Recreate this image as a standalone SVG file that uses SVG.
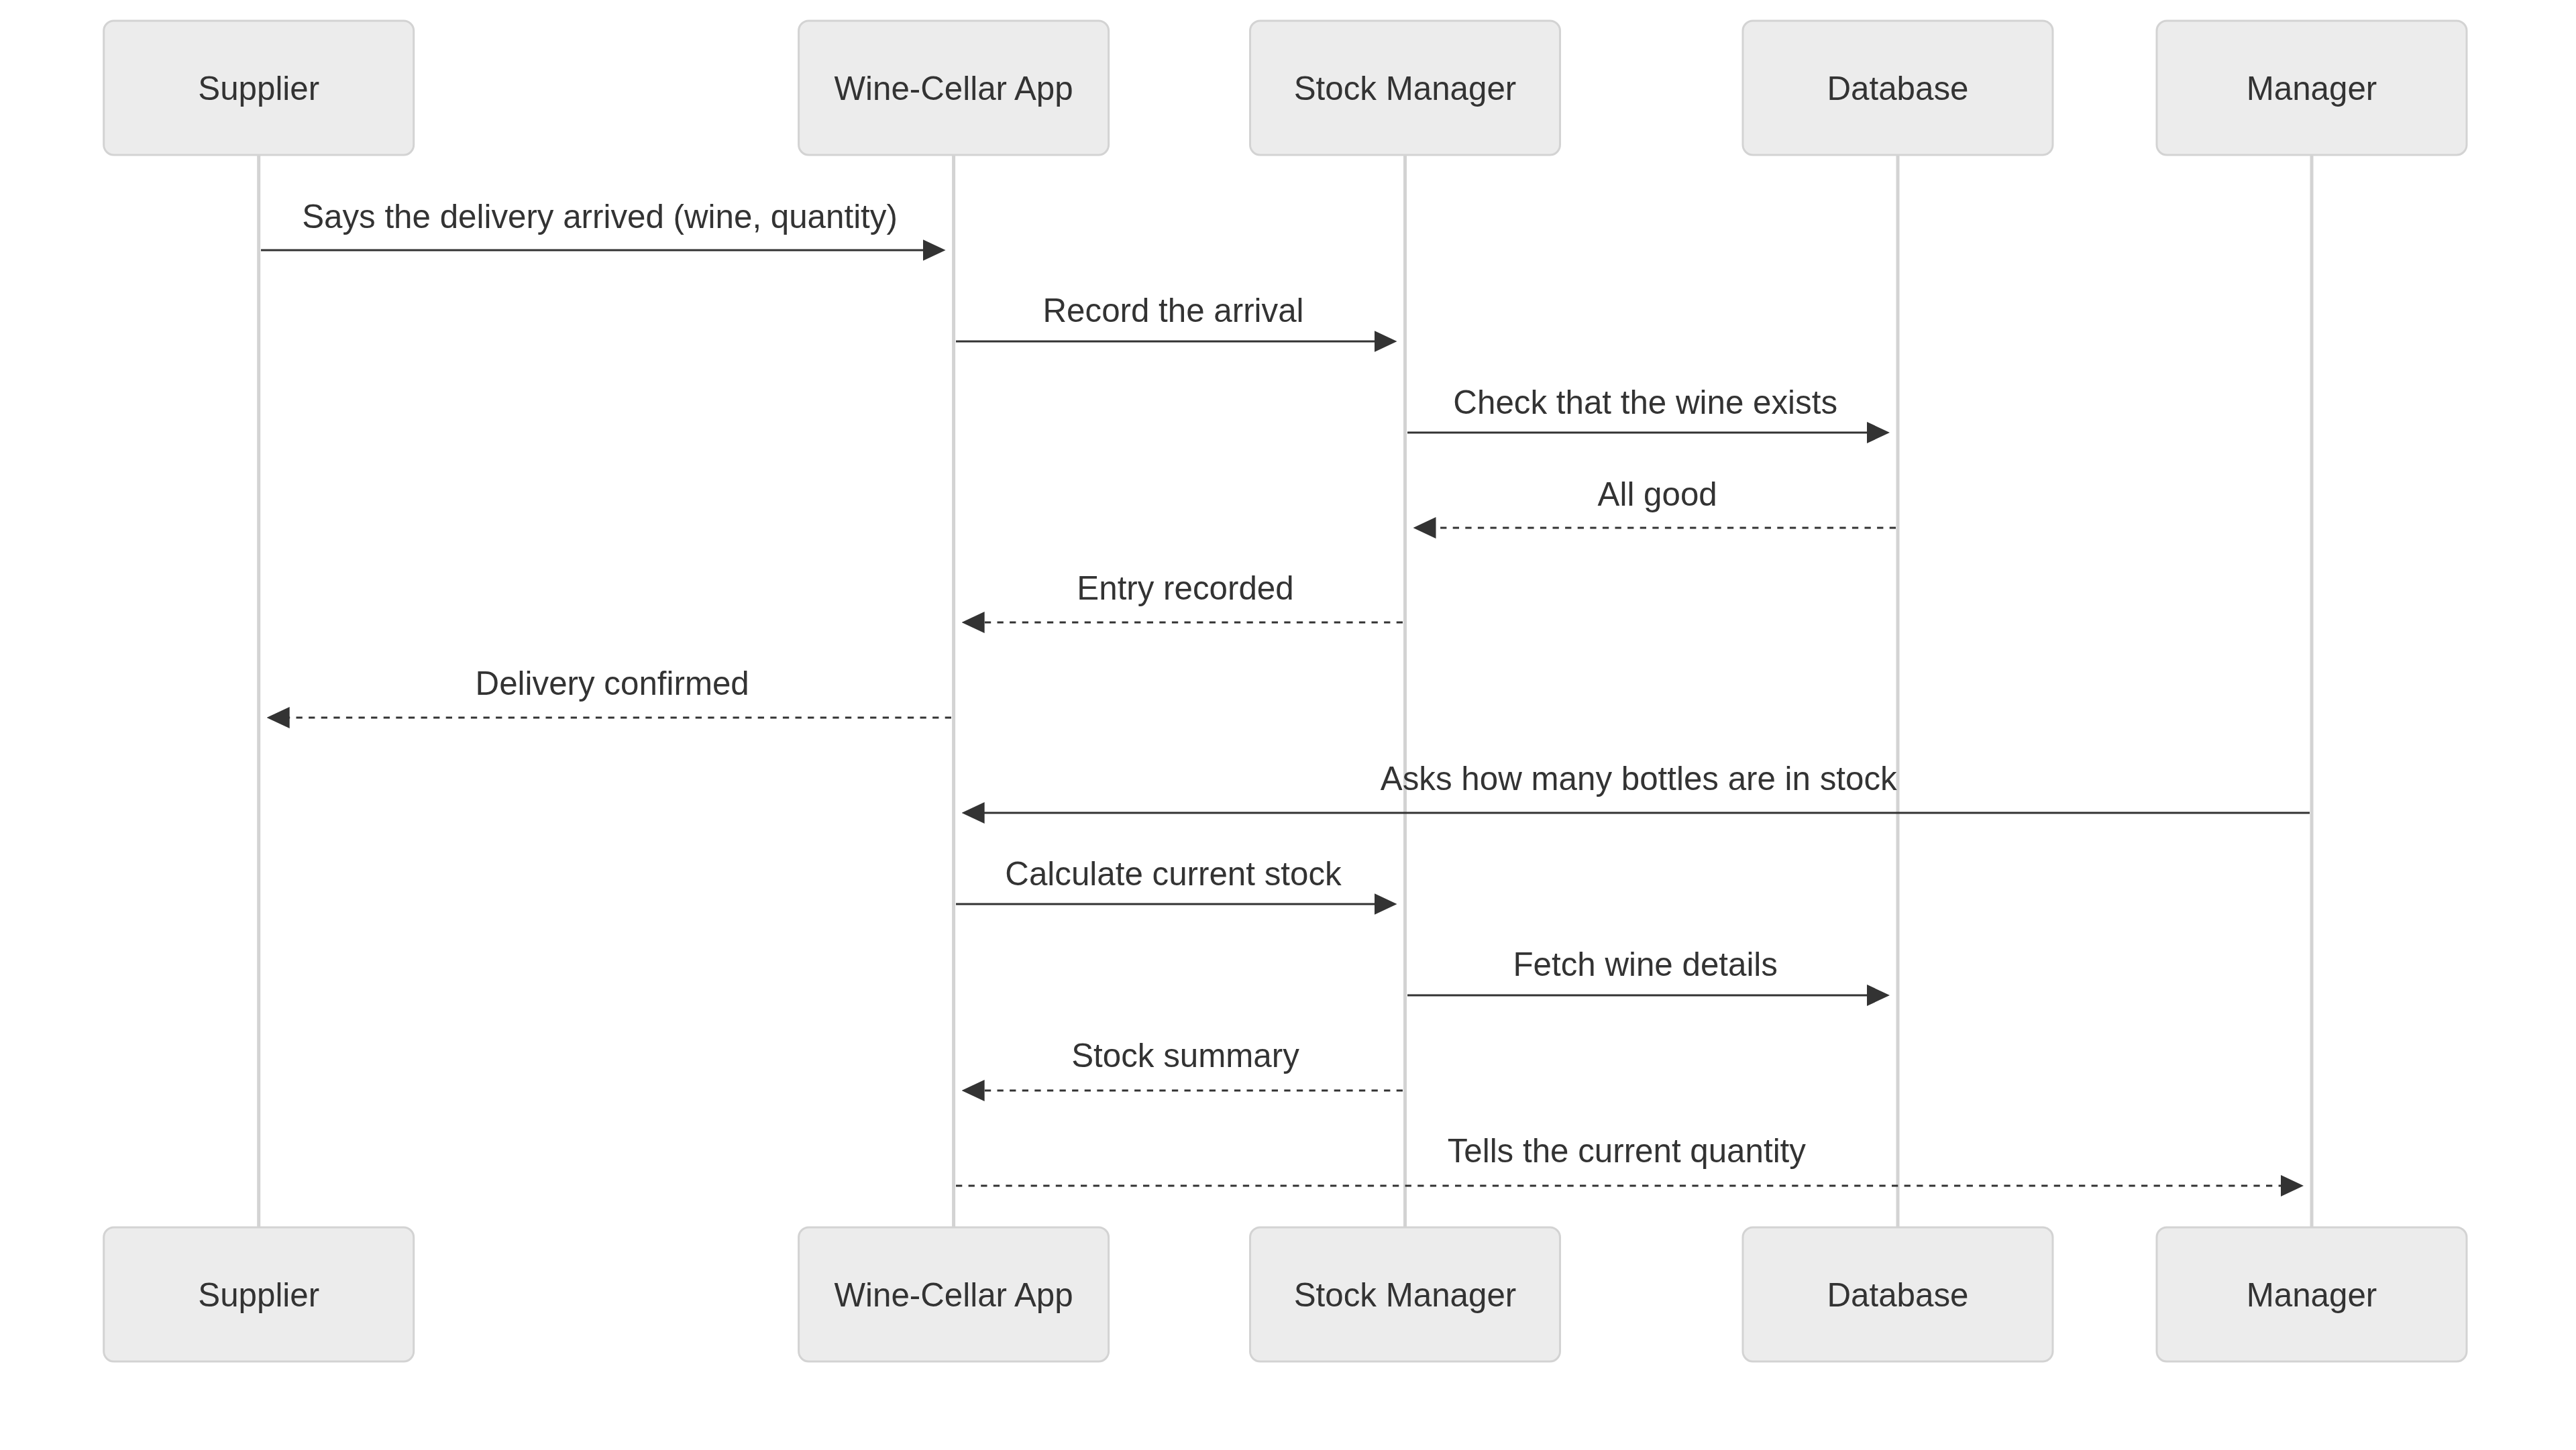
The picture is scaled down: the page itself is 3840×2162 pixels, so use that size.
<svg xmlns="http://www.w3.org/2000/svg" width="3840" height="2162" viewBox="0 0 3840 2162">
<style>
.box{fill:#ececec;stroke:#d3d3d3;stroke-width:3}
.life{stroke:#d3d3d3;stroke-width:5}
.lbl{font-family:"Liberation Sans",Arial,Helvetica,sans-serif;font-size:49.3px;fill:#333;text-anchor:middle}
.msg{stroke:#333;stroke-width:3.2;fill:none;marker-end:url(#ah)}
.dash{stroke-dasharray:9.3 9.3}
</style>
<defs>
<marker id="ah" markerUnits="userSpaceOnUse" markerWidth="34" markerHeight="32" viewBox="0 0 34 32" refX="14" refY="16" orient="auto">
<path d="M0,0 L34,16 L0,32 z" fill="#333"/>
</marker>
</defs>
<rect width="3840" height="2162" fill="#fff"/>
<g id="supplier">
<line class="life" x1="385.7" y1="231" x2="385.7" y2="1830"/>
<rect class="box" x="154.7" y="31" width="462" height="200" rx="15"/>
<text class="lbl" x="385.7" y="149">Supplier</text>
<rect class="box" x="154.7" y="1830" width="462" height="200" rx="15"/>
<text class="lbl" x="385.7" y="1948">Supplier</text>
</g>
<g id="app">
<line class="life" x1="1421.6" y1="231" x2="1421.6" y2="1830"/>
<rect class="box" x="1190.6" y="31" width="462" height="200" rx="15"/>
<text class="lbl" x="1421.6" y="149">Wine-Cellar App</text>
<rect class="box" x="1190.6" y="1830" width="462" height="200" rx="15"/>
<text class="lbl" x="1421.6" y="1948">Wine-Cellar App</text>
</g>
<g id="stock">
<line class="life" x1="2094.5" y1="231" x2="2094.5" y2="1830"/>
<rect class="box" x="1863.5" y="31" width="462" height="200" rx="15"/>
<text class="lbl" x="2094.5" y="149">Stock Manager</text>
<rect class="box" x="1863.5" y="1830" width="462" height="200" rx="15"/>
<text class="lbl" x="2094.5" y="1948">Stock Manager</text>
</g>
<g id="database">
<line class="life" x1="2829" y1="231" x2="2829" y2="1830"/>
<rect class="box" x="2598" y="31" width="462" height="200" rx="15"/>
<text class="lbl" x="2829" y="149">Database</text>
<rect class="box" x="2598" y="1830" width="462" height="200" rx="15"/>
<text class="lbl" x="2829" y="1948">Database</text>
</g>
<g id="manager">
<line class="life" x1="3446" y1="231" x2="3446" y2="1830"/>
<rect class="box" x="3215" y="31" width="462" height="200" rx="15"/>
<text class="lbl" x="3446" y="149">Manager</text>
<rect class="box" x="3215" y="1830" width="462" height="200" rx="15"/>
<text class="lbl" x="3446" y="1948">Manager</text>
</g>
<g id="connectors">
<line class="msg" x1="389" y1="373" x2="1389.6" y2="373"/>
<text class="lbl" x="894" y="340">Says the delivery arrived (wine, quantity)</text>
<line class="msg" x1="1425" y1="509" x2="2062.5" y2="509"/>
<text class="lbl" x="1749" y="480">Record the arrival</text>
<line class="msg" x1="2098" y1="645" x2="2797" y2="645"/>
<text class="lbl" x="2452.7" y="617">Check that the wine exists</text>
<line class="msg dash" x1="2826" y1="787" x2="2126.5" y2="787"/>
<text class="lbl" x="2470.7" y="754">All good</text>
<line class="msg dash" x1="2091" y1="928" x2="1453.6" y2="928"/>
<text class="lbl" x="1767" y="894">Entry recorded</text>
<line class="msg dash" x1="1418" y1="1070" x2="417.7" y2="1070"/>
<text class="lbl" x="912.7" y="1036">Delivery confirmed</text>
<line class="msg" x1="3443" y1="1212" x2="1453.6" y2="1212"/>
<text class="lbl" x="2442.8" y="1178">Asks how many bottles are in stock</text>
<line class="msg" x1="1425" y1="1348" x2="2062.5" y2="1348"/>
<text class="lbl" x="1749" y="1320">Calculate current stock</text>
<line class="msg" x1="2098" y1="1484" x2="2797" y2="1484"/>
<text class="lbl" x="2452.7" y="1455">Fetch wine details</text>
<line class="msg dash" x1="2091" y1="1626" x2="1453.6" y2="1626"/>
<text class="lbl" x="1767" y="1591">Stock summary</text>
<line class="msg dash" x1="1425" y1="1768" x2="3414" y2="1768"/>
<text class="lbl" x="2424.8" y="1733">Tells the current quantity</text>
</g>
</svg>
